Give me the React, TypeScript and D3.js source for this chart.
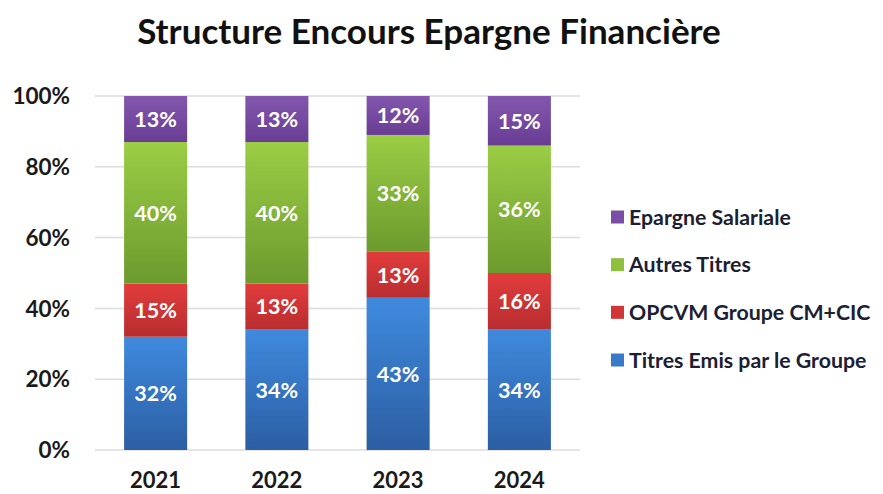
import React, { useEffect, useRef } from 'react';
import * as d3 from 'd3';

// données (en %)
const years = ['2021', '2022', '2023', '2024'];
const seriesKeys = ['titres', 'opcvm', 'autres', 'salariale'];
const seriesNames = ['Titres Emis par le Groupe', 'OPCVM Groupe CM+CIC', 'Autres Titres', 'Epargne Salariale'];
const titresEmis = [32, 34, 43, 34];
const opcvmGroupe = [15, 13, 13, 16];
const autresTitres = [40, 40, 33, 36];
const epargneSalariale = [13, 13, 12, 15];
const yTicks = [0, 20, 40, 60, 80, 100];

// couleurs (haut / bas du dégradé)
const seriesColors = [
  ['#3f8ade', '#2c5ea3'],
  ['#e23c3c', '#b82d2f'],
  ['#9bcd45', '#6c9a2e'],
  ['#8257ad', '#683d93'],
];
const legendColors = ['#3a78c8', '#d03538', '#8ec03e', '#7a4ea6'];

const W = 883;
const H = 494;
const FONT = 'Lato, "Open Sans", sans-serif';

const App = () => {
  const svgRef = useRef<SVGSVGElement>(null);

  useEffect(() => {
    const svg = d3.select(svgRef.current);
    svg.selectAll('*').remove();

    const rows = years.map((y, i) => ({
      year: y,
      titres: titresEmis[i],
      opcvm: opcvmGroupe[i],
      autres: autresTitres[i],
      salariale: epargneSalariale[i],
    }));
    const stacked = d3.stack<any>().keys(seriesKeys)(rows);

    const x = d3.scaleBand().domain(years).range([95, 580]).paddingInner(0.48).paddingOuter(0.24);
    const y = d3.scaleLinear().domain([0, 100]).range([450, 96]).clamp(true);

    // dégradés
    const defs = svg.append('defs');
    seriesColors.forEach((c, i) => {
      const g = defs.append('linearGradient')
        .attr('id', `grad${i}`)
        .attr('x1', 0).attr('y1', 0).attr('x2', 0).attr('y2', 1);
      g.append('stop').attr('offset', '0%').attr('stop-color', c[0]);
      g.append('stop').attr('offset', '100%').attr('stop-color', c[1]);
    });

    // titre
    svg.append('text')
      .attr('x', 429)
      .attr('y', 44)
      .attr('text-anchor', 'middle')
      .style('font-family', FONT)
      .style('font-weight', 'bold')
      .style('font-size', '35px')
      .style('fill', '#111')
      .text('Structure Encours Epargne Financière');

    // grille
    svg.append('g')
      .selectAll('line')
      .data(yTicks)
      .enter()
      .append('line')
      .attr('x1', 95)
      .attr('x2', 580)
      .attr('y1', d => y(d))
      .attr('y2', d => y(d))
      .style('stroke', '#dcdcdc')
      .style('stroke-width', 1.5);

    // étiquettes axe Y
    svg.append('g')
      .selectAll('text')
      .data(yTicks)
      .enter()
      .append('text')
      .attr('x', 70)
      .attr('y', d => y(d))
      .attr('dy', '0.36em')
      .attr('text-anchor', 'end')
      .style('font-family', FONT)
      .style('font-weight', 'bold')
      .style('font-size', '22.5px')
      .style('fill', '#1a1a1a')
      .text(d => `${d}%`);

    // étiquettes axe X
    svg.append('g')
      .selectAll('text')
      .data(years)
      .enter()
      .append('text')
      .attr('x', d => (x(d) as number) + x.bandwidth() / 2)
      .attr('y', 488)
      .attr('text-anchor', 'middle')
      .style('font-family', FONT)
      .style('font-weight', 'bold')
      .style('font-size', '22px')
      .style('fill', '#1a1a1a')
      .text(d => d);

    // barres empilées
    stacked.forEach((layer, si) => {
      const g = svg.append('g');
      g.selectAll('rect')
        .data(layer)
        .enter()
        .append('rect')
        .attr('x', d => x(d.data.year) as number)
        .attr('width', x.bandwidth())
        .attr('y', d => y(d[1]))
        .attr('height', d => y(d[0]) - y(d[1]))
        .style('fill', `url(#grad${si})`);

      g.selectAll('text')
        .data(layer)
        .enter()
        .append('text')
        .attr('x', d => (x(d.data.year) as number) + x.bandwidth() / 2)
        .attr('y', d => (y(d[0]) + y(d[1])) / 2)
        .attr('dy', '0.36em')
        .attr('text-anchor', 'middle')
        .style('font-family', FONT)
        .style('font-weight', 'bold')
        .style('font-size', '21.5px')
        .style('fill', '#fff')
        .text(d => `${d[1] - d[0]}%`);
    });

    // légende
    const legendY = d3.scalePoint().domain(d3.range(4).map(String)).range([217, 360]);
    const legend = svg.append('g');
    [3, 2, 1, 0].forEach((si, row) => {
      const ly = legendY(String(row)) as number;
      legend.append('rect')
        .attr('x', 611)
        .attr('y', ly - 6.5)
        .attr('width', 13)
        .attr('height', 13)
        .style('fill', legendColors[si]);
      legend.append('text')
        .attr('x', 629)
        .attr('y', ly)
        .attr('dy', '0.36em')
        .style('font-family', FONT)
        .style('font-weight', 'bold')
        .style('font-size', '21.3px')
        .style('fill', '#1c2033')
        .text(seriesNames[si]);
    });
  }, []);

  return (
    <svg
      ref={svgRef}
      width={W}
      height={H}
      style={{ position: 'absolute', left: 0, top: 0, background: '#fff' }}
    />
  );
};

export default App;
